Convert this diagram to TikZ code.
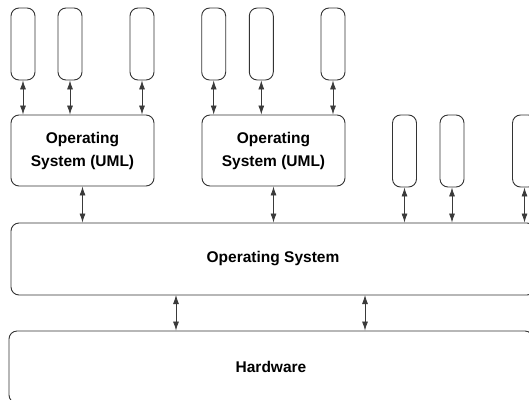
\documentclass[tikz,border=0pt]{standalone}
\usepackage{fontspec}
\setmainfont{Liberation Sans}
\usetikzlibrary{arrows.meta,positioning}
\definecolor{layerEdge}{HTML}{333333}
\definecolor{linkEdge}{HTML}{3A3A3A}

\begin{document}
\begin{tikzpicture}[x=1pt, y=-1pt,
        every node/.style={font=\fontsize{15.5}{23}\selectfont\bfseries},
        proc/.style={draw=layerEdge, line width=0.9pt, rounded corners=8pt, minimum width=24pt, minimum height=72pt, inner sep=0pt},
        osbox/.style={draw=layerEdge, line width=0.9pt, rounded corners=8pt, align=center, inner sep=0pt},
        ar/.style={{Latex[length=9pt,width=6pt]}-{Latex[length=9pt,width=6pt]}, line width=0.8pt, linkEdge}
    ]
        \clip (0,0) rectangle (529,399);
        % layers
        \node[osbox, minimum width=143pt, minimum height=71pt] (u1) at (82.5,150.5) {Operating\\System (UML)};
        \node[osbox, minimum width=143pt, minimum height=71pt] (u2) at (273.5,150.5) {Operating\\System (UML)};
        \node[osbox, minimum width=524pt, minimum height=72pt] (os) at (273,259) {Operating System};
        \node[osbox, minimum width=524pt, minimum height=72pt] (hw) at (271,367) {Hardware};
        % processes on the UML kernels
        \node[proc] (p1) at (23,44) {};
        \node[proc] (p2) at (70,44) {};
        \node[proc] (p3) at (142,44) {};
        \node[proc] (p4) at (213.7,44) {};
        \node[proc] (p5) at (261.3,44) {};
        \node[proc] (p6) at (333,44) {};
        % processes on the host
        \node[proc] (q1) at (404.5,151) {};
        \node[proc] (q2) at (452,151) {};
        \node[proc] (q3) at (524.5,151) {};
        \coordinate (h1) at (176,295);
        \coordinate (h2) at (365,295);
        \foreach \p in {p1,p2,p3}
            \draw[ar] (\p.south) -- (\p.south |- u1.north);
        \foreach \p in {p4,p5,p6}
            \draw[ar] (\p.south) -- (\p.south |- u2.north);
        \foreach \p in {u1,u2,q1,q2,q3}
            \draw[ar] (\p.south) -- (\p.south |- os.north);
        \draw[ar] (h1) -- (h1 |- hw.north);
        \draw[ar] (h2) -- (h2 |- hw.north);
    \end{tikzpicture}
\end{document}
